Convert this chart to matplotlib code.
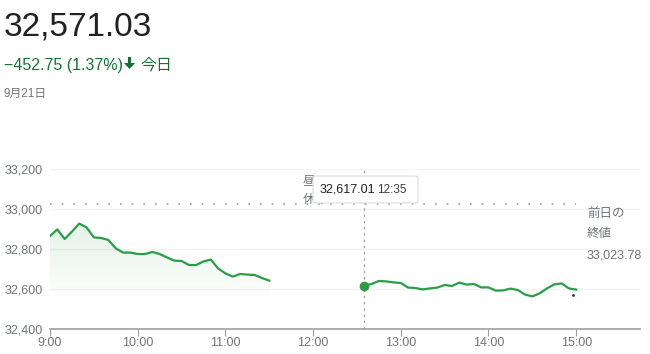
import numpy as np
import matplotlib
matplotlib.use("Agg")
from matplotlib import pyplot as plt
from matplotlib.patches import FancyBboxPatch, Polygon, FancyArrow

plt.rcParams['font.family'] = ['Liberation Sans', 'Noto Sans CJK JP', 'DejaVu Sans']

# data (5 minute steps)
am_start = 9.0
am_vals = [32865, 32898, 32850, 32887, 32927, 32908, 32858, 32855, 32845, 32803,
           32782, 32782, 32775, 32775, 32785, 32775, 32758, 32742, 32740, 32720,
           32720, 32738, 32747, 32703, 32678, 32662, 32675, 32672, 32670, 32655,
           32642]
pm_start = 12 + 35 / 60
pm_vals = [32617, 32625, 32640, 32638, 32633, 32630, 32607, 32605, 32598, 32603,
           32607, 32620, 32615, 32632, 32622, 32625, 32608, 32608, 32592, 32593,
           32602, 32595, 32572, 32563, 32578, 32603, 32623, 32628, 32603, 32597]
prev_close = 33023.78
cursor_val = 32617.01
cursor_time = "12:35"
price = "32,571.03"
change = "\u2212452.75 (1.37%)"
hours = [9, 10, 11, 12, 13, 14, 15]
yticks = [32400, 32600, 32800, 33000, 33200]

am_x = am_start + np.arange(len(am_vals)) * 5 / 60
pm_x = pm_start + np.arange(len(pm_vals)) * 5 / 60

W, H = 650, 354
fig = plt.figure(figsize=(6.5, 3.54), dpi=100)
ax = fig.add_axes([50 / W, (H - 329) / H, 590 / W, 160 / H])

green = '#2a9d47'
gray = '#70757a'

ax.set_xlim(9, 9 + 590 / 87.7)
ax.set_ylim(32400, 33200)

# gradient fill under morning line
poly = Polygon(np.column_stack([np.r_[am_x, am_x[-1], am_x[0]],
                                np.r_[am_vals, 32400, 32400]]),
               closed=True, facecolor='none', edgecolor='none')
ax.add_patch(poly)
grad = np.linspace(0, 1, 256).reshape(-1, 1)
rgba = np.zeros((256, 1, 4))
rgba[..., 0] = 0x2a / 255
rgba[..., 1] = 0x9d / 255
rgba[..., 2] = 0x47 / 255
rgba[..., 3] = np.clip((grad - 0.25) / 0.75, 0, 1) * 0.13
im = ax.imshow(rgba, extent=[am_x[0], am_x[-1], 32400, max(am_vals)],
               origin='lower', aspect='auto', zorder=1)
im.set_clip_path(poly)

ax.plot(am_x, am_vals, color=green, lw=1.6, zorder=3, solid_joinstyle='round')
ax.plot(pm_x, pm_vals, color=green, lw=1.6, zorder=3, solid_joinstyle='round')
ax.plot(pm_x[0], pm_vals[0], 'o', color=green, ms=6, zorder=4)
ax.plot(pm_x[-1] - 0.04, 32572, 'o', color='#333333', ms=1, zorder=4)

# grid and previous close
for yv in yticks[1:]:
    ax.axhline(yv, color='#f1f3f4', lw=1, zorder=0)
ax.plot([9, 15.0], [prev_close, prev_close], color='#9aa0a6', lw=1.2,
        linestyle=(0, (1, 6)), zorder=2)
fig.text(587 / W, 1 - 214 / H, "前日の", color=gray, fontsize=9, va='center', ha='left')
fig.text(587 / W, 1 - 234 / H, "終値", color=gray, fontsize=9, va='center', ha='left')
fig.text(587 / W, 1 - 255 / H, "33,023.78", color=gray, fontsize=9, va='center', ha='left')

# cursor
ax.axvline(pm_x[0], color='#9aa0a6', lw=0.9, linestyle=(0, (2, 3)), zorder=2,
           ymax=1.0)
fig.text(303 / W, 1 - 181 / H, "昼", color=gray, fontsize=9, va='center', ha='left')
fig.text(303 / W, 1 - 200 / H, "休み", color=gray, fontsize=9, va='center', ha='left')
box = FancyBboxPatch((313 / W, (H - 203) / H), 105 / W, 27 / H,
                     boxstyle='round,pad=0,rounding_size=0.005',
                     transform=fig.transFigure, facecolor='white',
                     edgecolor='#dadce0', lw=0.8, zorder=10)
fig.patches.append(box)
fig.text(320 / W, (H - 190) / H, "32,617.01", fontsize=9, color='#202124',
         va='center', ha='left', zorder=11)
fig.text(377 / W, (H - 190) / H, cursor_time, fontsize=8.5, color='#3c4043',
         va='center', ha='left', zorder=11)

# axes style
for s in ['top', 'right', 'left']:
    ax.spines[s].set_visible(False)
ax.spines['bottom'].set_color('#9aa0a6')
ax.spines['bottom'].set_linewidth(1.2)
ax.set_xticks(hours)
ax.set_xticklabels([f"{h}:00" for h in hours])
ax.set_yticks(yticks)
ax.set_yticklabels([f"{v:,}" for v in yticks])
ax.tick_params(axis='x', colors='#9aa0a6', labelcolor=gray, labelsize=9,
               length=5, pad=1)
ax.tick_params(axis='y', length=0, labelcolor=gray, labelsize=9, pad=5)

# header
fig.text(4 / W, 1 - 36 / H, price, fontsize=24, color='#202124', va='baseline')
fig.text(4 / W, 1 - 70 / H, change, fontsize=11.5, color='#137333', va='baseline')
arr = FancyArrow(129.5 / W, 1 - 57 / H, 0, -12 / H, width=3 / W,
                 head_width=11 / W, head_length=6 / H, length_includes_head=True,
                 transform=fig.transFigure, color='#137333', lw=0)
fig.patches.append(arr)
fig.text(140 / W, 1 - 70 / H, "今日", fontsize=11.5, color='#137333', va='baseline')
fig.text(4 / W, 1 - 97 / H, "9月21日", fontsize=8.5, color=gray, va='baseline')

fig.savefig("out.png", dpi=100, facecolor='white')
